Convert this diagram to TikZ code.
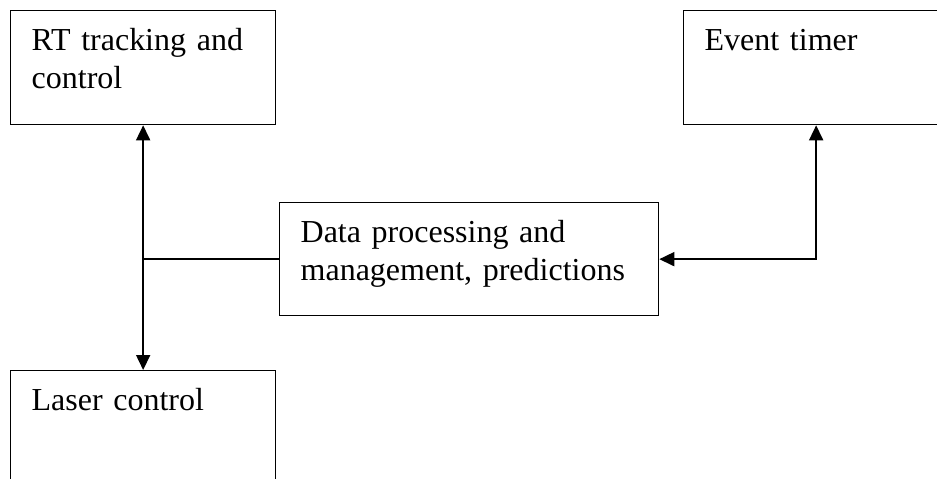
\documentclass[tikz,border=0pt]{standalone}
\usepackage{fontspec}
\setmainfont{Liberation Serif}
\usetikzlibrary{arrows.meta}
\tikzset{
  blk/.style={draw, line width=1.3pt, anchor=north west, align=left,
    inner xsep=21pt, inner ysep=0pt, text height=40pt, text depth=74pt},
  link/.style={line width=1.7pt}
}

\begin{document}
\begin{tikzpicture}[x=1pt, y=-1pt, >={Triangle[length=15pt,width=14pt]},
    every node/.style={font=\fontsize{32}{38}\selectfont}]
  \useasboundingbox (0,0) rectangle (937,479);
  \node[blk, text width=223pt] (rt)    at (10,10)  {RT tracking and\\control};
  \node[blk, text width=223pt] (timer) at (683,10) {Event timer};
  \node[blk, text width=337pt, text depth=73pt] (data) at (279,202) {Data processing and\\management, predictions};
  \node[blk, text width=223pt] (laser) at (10,370) {Laser control};
  \draw[link,<->] (rt.south) -- (laser.north);
  \draw[link] (data.west) -- (data.west -| rt.south);
  \draw[link,<->] (data.east) -| (timer.south);
\end{tikzpicture}
\end{document}
